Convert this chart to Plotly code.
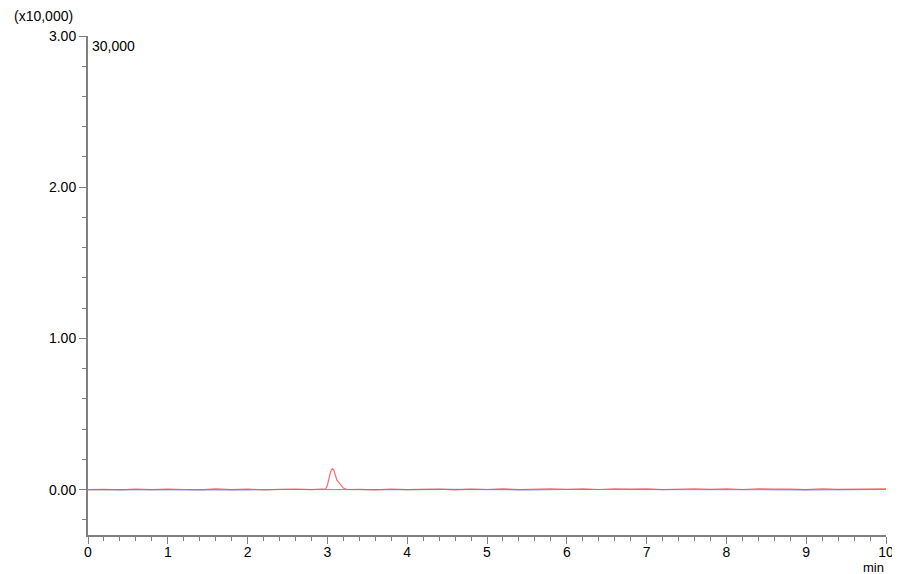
import plotly.graph_objects as go

# Time axis (min) for baseline segments
red_time = [0.0, 0.2, 0.4, 0.6, 0.8, 1.0, 1.2, 1.4, 1.6, 1.8, 2.0, 2.2, 2.4, 2.6, 2.8,
            2.95, 2.98, 3.00, 3.02, 3.04, 3.06, 3.08, 3.10, 3.12, 3.14, 3.16, 3.18, 3.20, 3.23, 3.26,
            3.4, 3.6, 3.8, 4.0, 4.2, 4.4, 4.6, 4.8, 5.0, 5.2, 5.4, 5.6, 5.8, 6.0, 6.2, 6.4,
            6.6, 6.8, 7.0, 7.2, 7.4, 7.6, 7.8, 8.0, 8.2, 8.4, 8.6, 8.8, 9.0, 9.2, 9.4, 9.6, 9.8, 10.0]
red_signal = [0.000, 0.002, -0.001, 0.003, 0.000, 0.004, 0.001, -0.001, 0.005, 0.000, 0.003, -0.001, 0.002, 0.004, 0.000,
              0.001, 0.006, 0.030, 0.075, 0.118, 0.138, 0.130, 0.095, 0.062, 0.050, 0.036, 0.020, 0.010, 0.004, 0.001,
              0.002, -0.001, 0.003, 0.000, 0.002, 0.004, -0.001, 0.003, 0.001, 0.005, 0.000, 0.004, 0.006, 0.002, 0.005, 0.001,
              0.006, 0.003, 0.005, 0.000, 0.004, 0.006, 0.002, 0.005, 0.001, 0.006, 0.003, 0.004, 0.000, 0.006, 0.002, 0.005, 0.003, 0.006]

blue_time = [0.0, 0.5, 1.0, 1.5, 2.0, 2.5, 3.0, 3.5, 4.0, 4.5, 5.0, 5.5, 6.0, 6.5, 7.0, 7.5, 8.0, 8.5, 9.0, 9.5, 10.0]
blue_signal = [0.000, -0.001, 0.001, 0.000, -0.001, 0.001, 0.000, -0.001, 0.000, 0.002, 0.000, -0.001, 0.001, 0.000,
               0.001, -0.001, 0.000, 0.001, -0.001, 0.000, 0.001]

x_ticks = [0, 1, 2, 3, 4, 5, 6, 7, 8, 9, 10]
y_ticks = [0.0, 1.0, 2.0, 3.0]
y_tick_labels = ["0.00", "1.00", "2.00", "3.00"]

fig = go.Figure()
fig.add_trace(go.Scatter(x=red_time, y=red_signal, mode="lines",
                         line=dict(color="#ff6a6a", width=1.2), hoverinfo="skip"))
fig.add_trace(go.Scatter(x=blue_time, y=blue_signal, mode="lines",
                         line=dict(color="#6a84d6", width=1.2), opacity=0.85, hoverinfo="skip"))

axis_font = dict(family="Liberation Sans, Arial, sans-serif", size=14, color="#000000")

fig.update_layout(
    width=892, height=566,
    margin=dict(l=80, r=14, t=28, b=39),
    paper_bgcolor="white", plot_bgcolor="white",
    showlegend=False,
    font=axis_font,
    xaxis=dict(range=[0, 10], tickvals=x_ticks, ticktext=[str(v) for v in x_ticks], automargin=False,
               showgrid=False, zeroline=False, showline=True, linecolor="#808080", linewidth=2,
               ticks="outside", ticklen=7, tickcolor="#808080", tickwidth=1, ticklabelstandoff=-4,
               minor=dict(dtick=0.2, ticks="outside", ticklen=4, tickcolor="#808080", showgrid=False),
               tickfont=axis_font),
    yaxis=dict(range=[-0.3, 3.0], tickvals=y_ticks, ticktext=y_tick_labels, automargin=False,
               showgrid=False, zeroline=False, showline=True, linecolor="#808080", linewidth=2,
               ticks="outside", ticklen=7, tickcolor="#808080", tickwidth=1,
               minor=dict(dtick=0.2, tick0=0, ticks="outside", ticklen=4, tickcolor="#808080", showgrid=False),
               tickfont=axis_font),
    annotations=[
        dict(text="(x10,000)", xref="paper", yref="paper", x=-76/798, y=1 + 20/499,
             xanchor="left", yanchor="middle", showarrow=False, font=axis_font),
        dict(text="30,000", xref="paper", yref="paper", x=0.002, y=1.0,
             xanchor="left", yanchor="top", showarrow=False, font=axis_font),
        dict(text="min", xref="paper", yref="paper", x=1.0, y=-32/499,
             xanchor="right", yanchor="middle", showarrow=False,
             font=dict(family="Liberation Sans, Arial, sans-serif", size=13, color="#000000")),
    ],
)

fig.write_html("out.html")
